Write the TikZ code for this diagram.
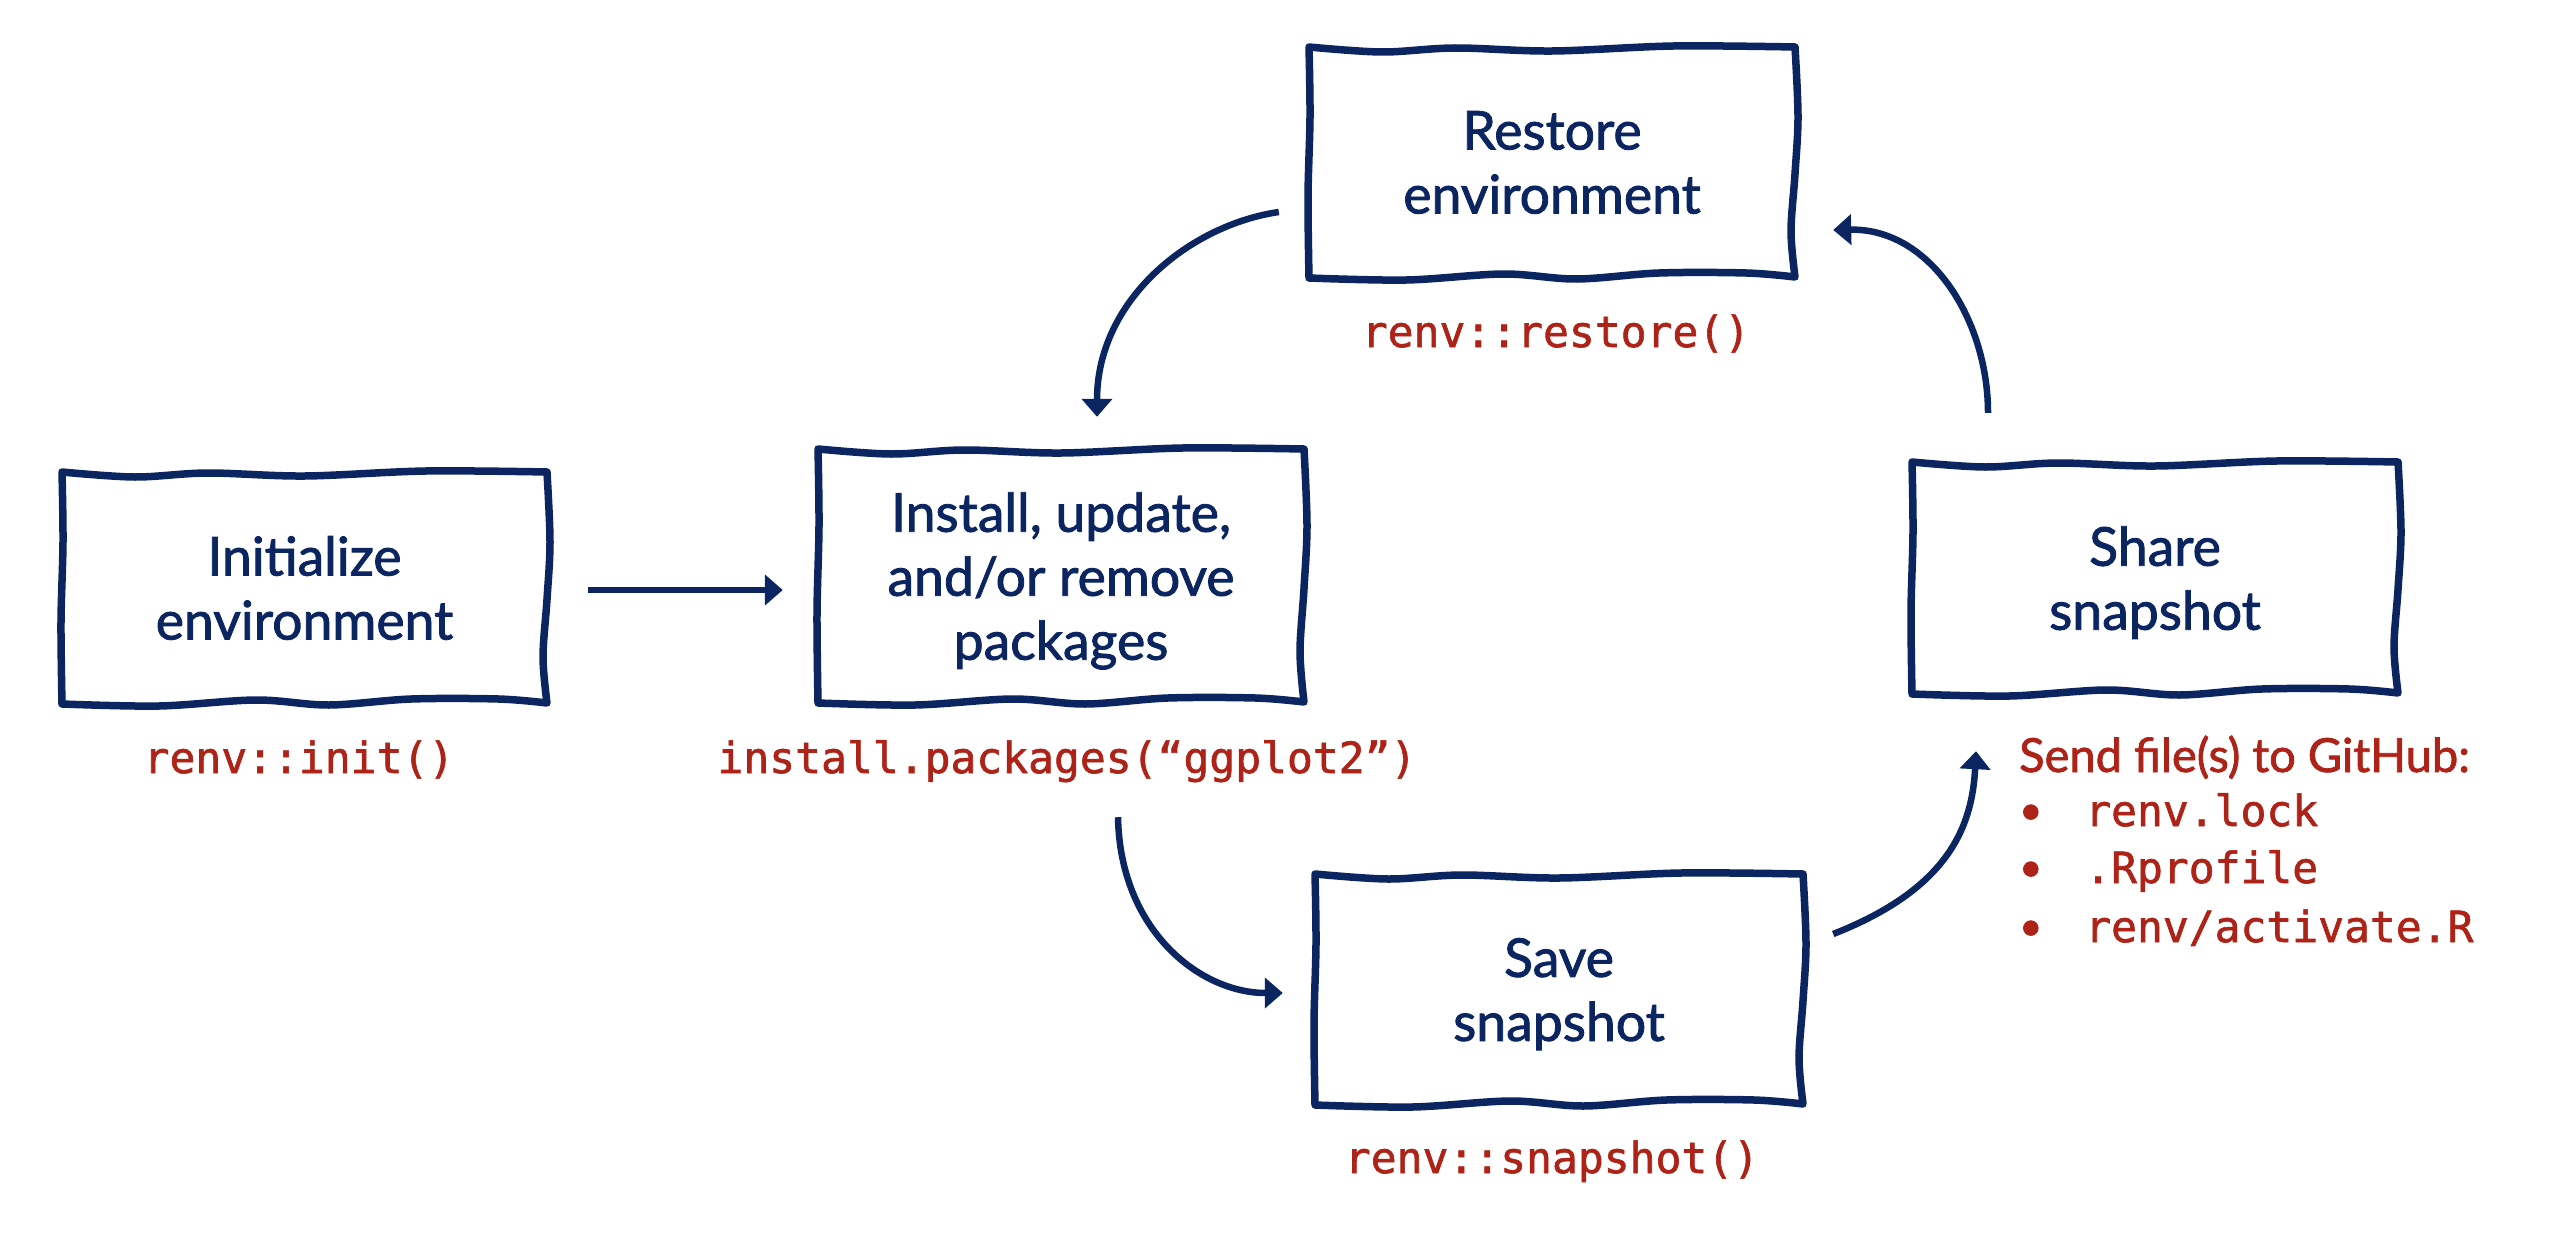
\documentclass[tikz,border=0pt]{standalone}
\usepackage{fontspec}
\setmainfont{Lato}
\newfontfamily\latofont{Lato}[FakeBold=1.6]
\newfontfamily\codefont{DejaVu Sans Mono}[FakeBold=1.4]
\usetikzlibrary{arrows.meta}
\definecolor{navy}{HTML}{0B2561}
\definecolor{rred}{HTML}{AE2318}

\tikzset{
  boxline/.style={draw=navy, line width=7.5pt, line join=round, line cap=round},
  stepnode/.style={inner sep=0pt, align=center, text=navy,
    font=\latofont\fontsize{53.5}{64}\selectfont},
  codelbl/.style={inner sep=0pt, text=rred, font=\codefont\fontsize{43}{50}\selectfont},
  sendtxt/.style={inner sep=0pt, text=rred, font=\latofont\fontsize{47}{56}\selectfont},
  flow/.style={draw=navy, line width=6.5pt, line cap=butt,
    -{Triangle[length=18pt,width=30pt]}},
}

\newcommand\nodesc[1]{\raisebox{0pt}[\height][0pt]{#1}}
\newcommand\bulmark{\makebox[66pt][l]{\raisebox{2pt}{\latofont\fontsize{40}{50}\selectfont\textbullet}}}

% wobbly hand-drawn outline around a named node: name, half width, half height
\newcommand\sketchbox[3]{%
\begin{scope}[shift={(#1.center)}]
\draw[boxline]
  plot[smooth,tension=0.55] coordinates {({-#2},{-#3-1}) ({-0.7*#2},{-#3+4}) ({-0.4*#2},{-#3}) ({0},{-#3+3}) ({0.5*#2},{-#3-2}) ({#2},{-#3-1})}
  -- plot[smooth,tension=0.55] coordinates {({#2},{-#3-1}) ({#2+3},{-0.4*#3}) ({#2},{0.1*#3}) ({#2-4},{0.6*#3}) ({#2},{#3})}
  -- plot[smooth,tension=0.55] coordinates {({#2},{#3}) ({0.8*#2},{#3-4}) ({0.44*#2},{#3-4}) ({0.1*#2},{#3+2}) ({-0.2*#2},{#3-3}) ({-0.6*#2},{#3+3}) ({-#2},{#3+1})}
  -- plot[smooth,tension=0.55] coordinates {({-#2},{#3+1}) ({-#2-1},{0.3*#3}) ({-#2+1},{-0.4*#3}) ({-#2},{-#3-1})}
  -- cycle;
\end{scope}}

\begin{document}
\begin{tikzpicture}[x=1pt,y=-1pt]
\fill[white] (0,0) rectangle (2554,1236);
\useasboundingbox (0,0) rectangle (2554,1236);

% boxes
\node[stepnode, minimum width=485pt, minimum height=230pt] (init) at (304.5,588) {Initialize\\environment};
\node[stepnode, minimum width=486pt, minimum height=252pt] (install) at (1061,576) {Install, update,\\and/or remove\\\nodesc{packages}};
\node[stepnode, minimum width=486pt, minimum height=229pt] (restore) at (1552,162.5) {Restore\\environment};
\node[stepnode, minimum width=486pt, minimum height=230pt] (share) at (2155,578) {Share\\\nodesc{snapshot}};
\node[stepnode, minimum width=488pt, minimum height=229pt] (save) at (1559,989.5) {Save\\\nodesc{snapshot}};

\sketchbox{init}{242.5}{115}
\sketchbox{install}{243}{126}
\sketchbox{restore}{243}{114.5}
\sketchbox{share}{243}{115}
\sketchbox{save}{244}{114.5}

% code labels
\node[codelbl, anchor=base] (initcode) at (299,773) {renv::init()};
\node[codelbl, anchor=base] (installcode) at (1067,773) {install.packages(“ggplot2”)};
\node[codelbl, anchor=base] (restorecode) at (1556,347) {renv::restore()};
\node[codelbl, anchor=base] (savecode) at (1552,1173) {renv::snapshot()};

% share note
\node[sendtxt, anchor=base west] (sendhd) at (2019,772) {Send file(s) to GitHub:};
\node[codelbl, anchor=base west] (file1) at (2019,826) {\bulmark renv.lock};
\node[codelbl, anchor=base west] (file2) at (2019,883) {\bulmark .Rprofile};
\node[codelbl, anchor=base west] (file3) at (2019,942) {\bulmark renv/activate.R};

% connectors
\draw[flow] ([shift={(41,2)}]init.east) -- ([shift={(-35,14)}]install.west);
\draw[flow] ([shift={(-30,49.5)}]restore.west) .. controls +(-89,13) and +(0,-117) .. ([shift={(36,-33)}]install.north);
\draw[flow] ([shift={(57,115)}]install.south) .. controls +(2,113) and +(-83,0) .. ([shift={(-32,3.5)}]save.west);
\draw[flow] ([shift={(30,-55.5)}]save.east) .. controls +(112,-44) and +(-4,79) .. ([shift={(-179,58)}]share.south);
\draw[flow] ([shift={(-167,-50)}]share.north) .. controls +(0,-93) and +(97,-2) .. ([shift={(38,67.5)}]restore.east);
\end{tikzpicture}
\end{document}
